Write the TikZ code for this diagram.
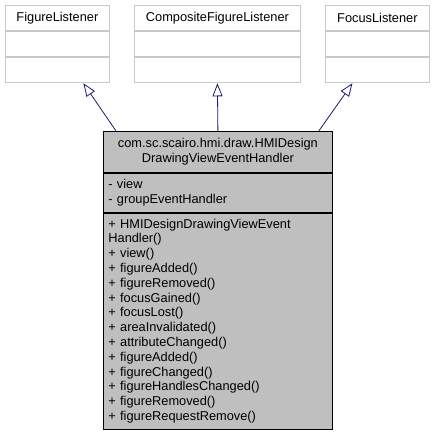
\documentclass[tikz,border=0pt]{standalone}
\usepackage{fontspec}
\setmainfont{Liberation Sans}
\usepackage{xcolor}
\usepackage{tikz}
\usetikzlibrary{arrows.meta,calc,positioning}
\definecolor{edgeblue}{RGB}{25,25,112}
\definecolor{boxgray}{RGB}{191,191,191}
\definecolor{linegray}{RGB}{200,200,200}

\begin{document}
\begin{tikzpicture}[x=1pt,y=-1pt,>={Triangle[open,length=13pt,width=10pt]},
  font=\fontsize{12.8}{14.8}\selectfont,
  cls/.style={draw=linegray,line width=0.8pt,fill=white,inner sep=0pt,minimum width=104pt,minimum height=25.3pt},
  clstop/.style={cls,anchor=north west},
  hmibox/.style={draw=black,line width=0.8pt,fill=boxgray,inner xsep=5pt,inner ysep=0pt,text width=219pt},
  inherit/.style={draw=edgeblue,line width=0.8pt,->}]
  \useasboundingbox (0,0) rectangle (435,433);
  \node[clstop] (figlst) at (5,5) {FigureListener};
  \node[cls,below=0pt of figlst] (figlstattr) {};
  \node[cls,below=0pt of figlstattr] (figlstops) {};
  \node[clstop,minimum width=166pt] (complst) at (134,5) {CompositeFigureListener};
  \node[cls,minimum width=166pt,below=0pt of complst] (complstattr) {};
  \node[cls,minimum width=166pt,below=0pt of complstattr] (complstops) {};
  \node[clstop] (foclst) at (325,5) {FocusListener};
  \node[cls,below=0pt of foclst] (foclstattr) {};
  \node[cls,below=0pt of foclstattr] (foclstops) {};
  \node[hmibox,anchor=north west,align=center,minimum height=41pt] (hmi) at (103,131)
    {com.sc.scairo.hmi.draw.HMIDesign\\DrawingViewEventHandler};
  \node[hmibox,below=0pt of hmi,align=left,minimum height=39pt] (hmiattr)
    {- view\\- groupEventHandler};
  \node[hmibox,below=0pt of hmiattr,align=left,minimum height=216pt] (hmiops)
    {+ HMIDesignDrawingViewEvent\\Handler()\\+ view()\\+ figureAdded()\\+ figureRemoved()\\+ focusGained()\\+ focusLost()\\+ areaInvalidated()\\+ attributeChanged()\\+ figureAdded()\\+ figureChanged()\\+ figureHandlesChanged()\\+ figureRemoved()\\+ figureRequestRemove()};
  \draw[inherit] ($(hmi.north west)+(13,0)$) -- ($(figlstops.south)+(26,0)$);
  \draw[inherit] (hmi.north) -- (complstops.south);
  \draw[inherit] ($(hmi.north east)+(-14,0)$) -- ($(foclstops.south)+(-25,0)$);
\end{tikzpicture}
\end{document}
